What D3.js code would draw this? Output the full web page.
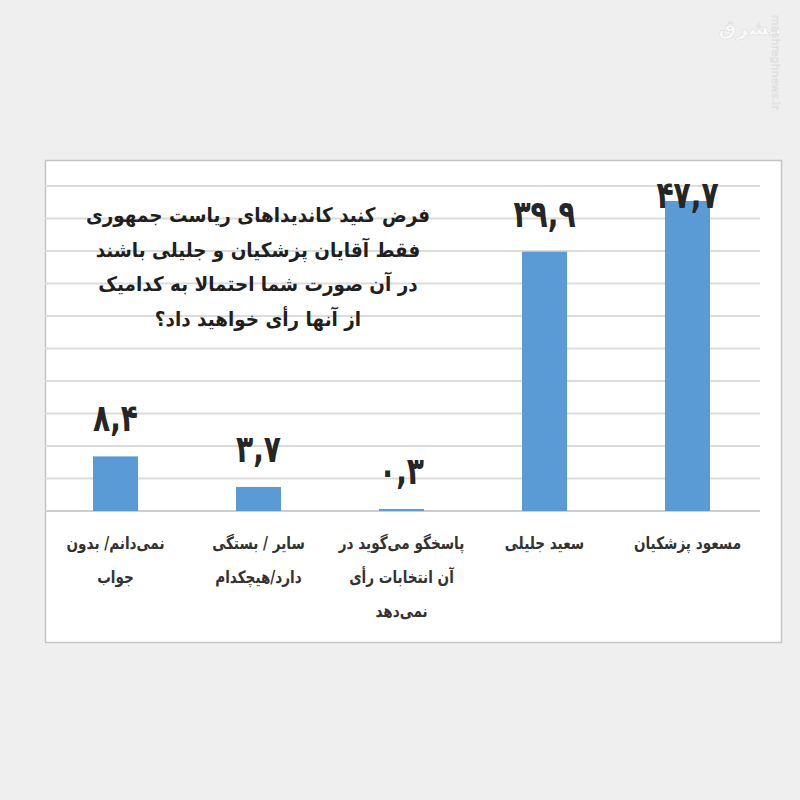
<!DOCTYPE html>
<html><head><meta charset="utf-8">
<script src="https://cdn.jsdelivr.net/npm/d3@7"></script>
<style>
html,body{margin:0;padding:0;background:#efefef;}
svg{display:block;}
</style></head>
<body>
<script>
// Data (right-to-left order as in the chart)
const categories = ["مسعود پزشکیان", "سعید جلیلی", "پاسخگو می‌گوید در آن انتخابات رأی نمی‌دهد", "سایر / بستگی دارد/هیچکدام", "نمی‌دانم/ بدون جواب"];
const categoryLines = [
  ["مسعود پزشکیان"],
  ["سعید جلیلی"],
  ["پاسخگو می‌گوید در", "آن انتخابات رأی", "نمی‌دهد"],
  ["سایر / بستگی", "دارد/هیچکدام"],
  ["نمی‌دانم/ بدون", "جواب"]
];
const values = [47.7, 39.9, 0.3, 3.7, 8.4];
const yTicks = [0, 5, 10, 15, 20, 25, 30, 35, 40, 45, 50];
const titleLines = [
  "فرض کنید کاندیداهای ریاست جمهوری",
  "فقط آقایان پزشکیان و جلیلی باشند",
  "در آن صورت شما احتمالا به کدامیک",
  "از آنها رأی خواهید داد؟"
];

const W = 800, H = 800;
const svg = d3.select("body").append("svg").attr("width", W).attr("height", H);

svg.append("rect").attr("width", W).attr("height", H).attr("fill", "#efefef");

svg.append("rect").attr("x", 45.5).attr("y", 160.5).attr("width", 736).attr("height", 482)
  .attr("fill", "#ffffff").attr("stroke", "#c4c4c4").attr("stroke-width", 1.5);

const x = d3.scaleBand().domain(categories).range([759, 44])
  .paddingInner(0.685).paddingOuter(0.3425);
const y = d3.scaleLinear().domain([0, 50]).range([511, 186]);

svg.append("g").selectAll("line").data(yTicks).join("line")
  .attr("x1", 45).attr("x2", 760)
  .attr("y1", d => y(d)).attr("y2", d => y(d))
  .attr("stroke", d => d === 0 ? "#cfcfcf" : "#dcdcdc").attr("stroke-width", 2);

svg.append("g").selectAll("rect").data(values).join("rect")
  .attr("x", (d, i) => x(categories[i]))
  .attr("width", x.bandwidth())
  .attr("y", d => y(d))
  .attr("height", d => y(0) - y(d))
  .attr("fill", "#5b9bd5");

const fa = s => s.replace(/[0-9]/g, c => "۰۱۲۳۴۵۶۷۸۹"[+c]).replace(".", ",");
const fmt = d3.format(".1f");

svg.append("g").selectAll("text").data(values).join("text")
  .attr("transform", (d, i) => `translate(${x(categories[i]) + x.bandwidth() / 2},${Math.max(y(d) - 25, y(50) + 22)}) scale(0.74,1)`)
  .attr("text-anchor", "middle")
  .attr("font-family", "DejaVu Sans")
  .attr("font-weight", "bold")
  .attr("font-size", 38)
  .attr("fill", "#262626")
  .text(d => fa(fmt(d)));

const cg = svg.append("g");
categoryLines.forEach((lines, i) => {
  const cx = x(categories[i]) + x.bandwidth() / 2;
  lines.forEach((ln, j) => {
    cg.append("text")
      .attr("transform", `translate(${cx},${549 + j * 34}) scale(0.8,1)`)
      .attr("text-anchor", "middle")
      .attr("direction", "rtl")
      .attr("font-family", "DejaVu Sans")
      .attr("font-weight", "bold")
      .attr("font-size", 17)
      .attr("fill", "#333")
      .text(ln);
  });
});

const tg = svg.append("g");
titleLines.forEach((ln, j) => {
  tg.append("text")
    .attr("transform", `translate(258,${222 + j * 34.5}) scale(0.92,1)`)
    .attr("text-anchor", "middle")
    .attr("direction", "rtl")
    .attr("font-family", "DejaVu Sans")
    .attr("font-weight", "bold")
    .attr("font-size", 20)
    .attr("fill", "#1f1f1f")
    .text(ln);
});

svg.append("text").attr("x", 750).attr("y", 35)
  .attr("text-anchor", "middle").attr("font-family", "DejaVu Sans").attr("font-weight", "bold")
  .attr("font-size", 20).attr("fill", "#fafafa").attr("stroke", "#dedede").attr("stroke-width", 0.6)
  .text("مشرق");
svg.append("text").attr("transform", "translate(772,15) rotate(90)")
  .attr("font-family", "DejaVu Sans").attr("font-size", 11).attr("fill", "#f9f9f9")
  .attr("stroke", "#d8d8d8").attr("stroke-width", 0.5)
  .text("mashreghnews.ir");
</script>
</body></html>
